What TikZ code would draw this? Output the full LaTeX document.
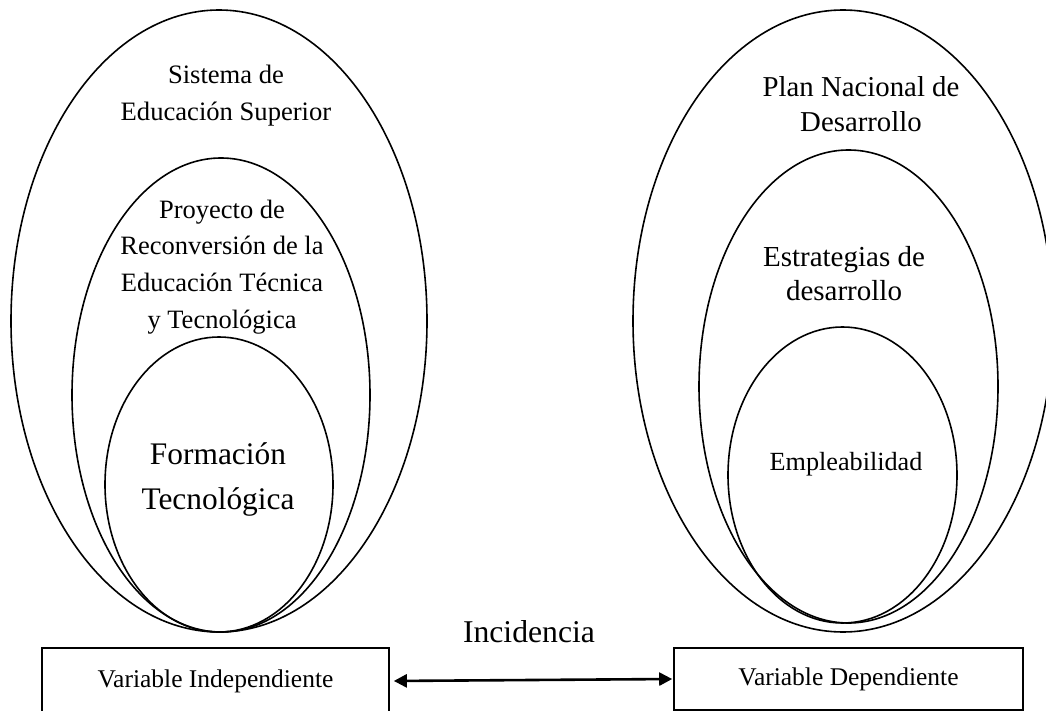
\documentclass[tikz,border=0pt]{standalone}
\usepackage{fontspec}
\setmainfont{Liberation Serif}
\usetikzlibrary{shapes.geometric,arrows.meta}
\tikzset{
  oval/.style={draw=black, line width=1.6pt, ellipse, inner sep=0pt, outer sep=0pt},
  txt/.style={align=center, inner sep=0pt, font=\fontsize{26.6}{37}\selectfont},
  varbox/.style={draw=black, line width=1.6pt, inner sep=0pt, font=\fontsize{25.5}{30}\selectfont},
  link/.style={line width=2.6pt, {Triangle[length=13pt,width=13pt]}-{Triangle[length=13pt,width=13pt]}}
}
\begin{document}
\begin{tikzpicture}[x=1pt,y=-1pt]
\useasboundingbox (0,0) rectangle (1046,711);
% left ellipses
\node[oval, minimum width=416, minimum height=622] (lo) at (219,321) {};
\node[oval, minimum width=298, minimum height=474] (lm) at (221,395) {};
\node[oval, minimum width=228, minimum height=295] (li) at (219,484.5) {};
% right ellipses
\node[oval, minimum width=420, minimum height=622] (ro) at (843,321) {};
\node[oval, minimum width=299, minimum height=473] (rm) at (848.5,386.5) {};
\node[oval, minimum width=229, minimum height=296] (ri) at (842.5,475) {};
% texts left
\node[txt] (t1) at (226,95.5) {Sistema de\\Educación Superior};
\node[txt, font=\fontsize{26.5}{36.7}\selectfont] (t2) at (222,267) {Proyecto de\\Reconversión de la\\Educación Técnica\\y Tecnológica};
\node[txt, font=\fontsize{31.4}{45}\selectfont] (t3) at (218,479.5) {Formación\\Tecnológica};
% texts right
\node[txt, font=\fontsize{28.8}{35}\selectfont] (t4) at (861,104.5) {Plan Nacional de\\Desarrollo};
\node[txt, font=\fontsize{29}{34}\selectfont] (t5) at (844,274) {Estrategias de\\desarrollo};
\node[txt, font=\fontsize{26.2}{30}\selectfont, anchor=base] (t6) at (846,470) {Empleabilidad};
% boxes
\node[varbox, minimum width=347, minimum height=66] (vi) at (215.5,681) {Variable Independiente};
\node[varbox, minimum width=349, minimum height=62] (vd) at (848.5,679) {Variable Dependiente};
\node[txt, font=\fontsize{31.7}{36}\selectfont, anchor=base] (inc) at (529,642) {Incidencia};
\draw[link, shorten <=4pt, shorten >=1pt] (vi.east) -- (vd.west);
\end{tikzpicture}
\end{document}
